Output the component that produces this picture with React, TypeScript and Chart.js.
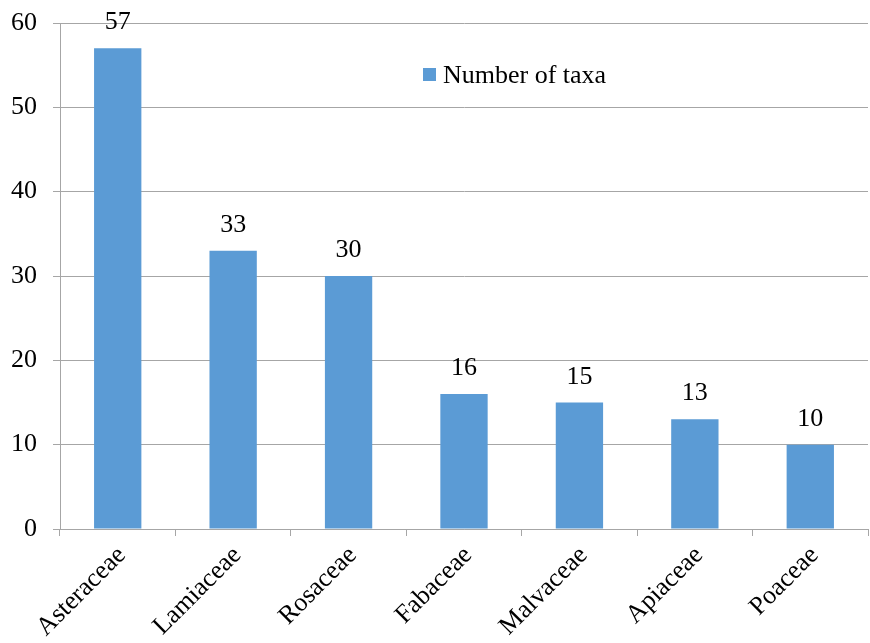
import React, { useEffect, useRef } from "react";
import { Chart, registerables } from "chart.js";

Chart.register(...registerables);

const categories = ["Asteraceae", "Lamiaceae", "Rosaceae", "Fabaceae", "Malvaceae", "Apiaceae", "Poaceae"];
const taxaCounts = [57, 33, 30, 16, 15, 13, 10];
const seriesLabel = "Number of taxa";
const yTicks = [0, 10, 20, 30, 40, 50, 60];

const FONT = "'Liberation Serif', 'Times New Roman', serif";
const FONT_SIZE = 26;
const BAR_COLOR = "#5b9bd5";
const GRID = "#a6a6a6";

const valueLabels = {
  id: "valueLabels",
  afterDatasetsDraw(chart: any) {
    const ctx = chart.ctx;
    const meta = chart.getDatasetMeta(0);
    ctx.save();
    ctx.font = `${FONT_SIZE}px ${FONT}`;
    ctx.fillStyle = "#000";
    ctx.textAlign = "center";
    ctx.textBaseline = "alphabetic";
    meta.data.forEach((bar: any, i: number) => {
      ctx.fillText(String(chart.data.datasets[0].data[i]), bar.x, bar.y - 19);
    });
    ctx.restore();
  },
};

const rotatedCategoryLabels = {
  id: "rotatedCategoryLabels",
  afterDraw(chart: any) {
    const ctx = chart.ctx;
    const xs = chart.scales.x;
    ctx.save();
    ctx.font = `${FONT_SIZE}px ${FONT}`;
    ctx.fillStyle = "#000";
    ctx.textAlign = "right";
    ctx.textBaseline = "top";
    chart.data.labels.forEach((lab: string, i: number) => {
      const x = xs.getPixelForTick(i) - 5;
      const y = xs.top + 13;
      ctx.save();
      ctx.translate(x, y);
      ctx.rotate(-Math.PI / 4);
      ctx.fillText(lab, 0, 0);
      ctx.restore();
    });
    ctx.restore();
  },
};

const insideLegend = {
  id: "insideLegend",
  afterDraw(chart: any) {
    const ctx = chart.ctx;
    const ds = chart.data.datasets[0];
    ctx.save();
    ctx.fillStyle = ds.backgroundColor;
    ctx.fillRect(423, 68, 13, 13);
    ctx.font = `${FONT_SIZE}px ${FONT}`;
    ctx.fillStyle = "#000";
    ctx.textAlign = "left";
    ctx.textBaseline = "alphabetic";
    ctx.fillText(ds.label, 443, 83);
    ctx.restore();
  },
};

export default function App() {
  const ref = useRef<HTMLCanvasElement>(null);
  useEffect(() => {
    document.body.style.margin = "0";
    const chart = new Chart(ref.current!, {
      type: "bar",
      data: {
        labels: categories,
        datasets: [
          {
            label: seriesLabel,
            data: taxaCounts,
            backgroundColor: BAR_COLOR,
            barPercentage: 0.41,
            categoryPercentage: 1,
          },
        ],
      },
      options: {
        animation: false,
        responsive: false,
        maintainAspectRatio: false,
        layout: { padding: { top: 23, right: 2, left: 0, bottom: 0 } },
        plugins: { legend: { display: false }, tooltip: { enabled: false } },
        scales: {
          x: {
            offset: true,
            grid: {
              offset: true,
              drawOnChartArea: false,
              drawTicks: true,
              tickLength: 7,
              color: GRID,
            },
            border: { color: GRID, width: 1 },
            ticks: { display: false },
            afterFit(scale: any) {
              scale.height = 114;
              scale.paddingLeft = 0;
              scale.paddingRight = 0;
            },
          },
          y: {
            min: yTicks[0],
            max: yTicks[yTicks.length - 1],
            afterBuildTicks(scale: any) {
              scale.ticks = yTicks.map((v) => ({ value: v }));
            },
            ticks: {
              color: "#000",
              font: { family: FONT, size: FONT_SIZE },
              padding: 16,
            },
            grid: { color: GRID, tickLength: 7 },
            border: { color: GRID, width: 1 },
            afterFit(scale: any) {
              scale.width = 60;
              scale.paddingTop = 0;
              scale.paddingBottom = 0;
            },
          },
        },
      },
      plugins: [valueLabels, rotatedCategoryLabels, insideLegend],
    });
    return () => chart.destroy();
  }, []);
  return (
    <div style={{ position: "absolute", left: 0, top: 0, width: 870, height: 643, background: "#fff" }}>
      <canvas ref={ref} width={870} height={643} />
    </div>
  );
}
